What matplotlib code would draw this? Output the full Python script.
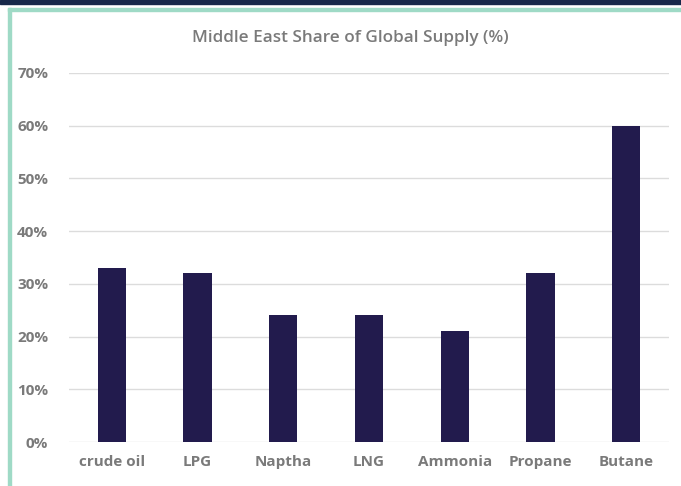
import matplotlib.pyplot as plt
from matplotlib.patches import Rectangle

categories = ['crude oil', 'LPG', 'Naptha', 'LNG', 'Ammonia', 'Propane', 'Butane']
share = [33, 32, 24, 24, 21, 32, 60]

plt.rcParams['font.family'] = ['Open Sans', 'DejaVu Sans']

fig = plt.figure(figsize=(6.81, 4.86), dpi=100)
ax = fig.add_axes([0.1013, 0.0905, 0.8811, 0.7593])

ax.bar(range(len(categories)), share, width=0.33, color='#221b4d', zorder=3)

ax.set_ylim(0, 70)
ax.set_xlim(-0.5, len(categories) - 0.5)
ax.set_yticks(range(0, 71, 10))
ax.set_yticklabels([f'{v}%' for v in range(0, 71, 10)])
ax.set_xticks(range(len(categories)))
ax.set_xticklabels(categories)
ax.grid(axis='y', color='#dcdcdc', linewidth=1, zorder=0)
for s in ax.spines.values():
    s.set_visible(False)
ax.tick_params(length=0, colors='#7a7a7a', labelsize=11)
ax.tick_params(axis='y', pad=15)
ax.tick_params(axis='x', pad=9)
for lbl in ax.get_xticklabels() + ax.get_yticklabels():
    lbl.set_fontweight('bold')

fig.text(0.515, 0.922, 'Middle East Share of Global Supply (%)', ha='center', va='center',
         fontsize=12.3, color='#7a7a7a', fontweight='semibold')

# top navy band and teal frame
fig.patches.append(Rectangle((0, 1 - 4 / 486), 1, 4 / 486, transform=fig.transFigure,
                             color='#17284a', zorder=0))
fig.patches.append(Rectangle((8 / 681, 0), 3 / 681, 1 - 8 / 486, transform=fig.transFigure,
                             color='#9fdac6', zorder=0))
fig.patches.append(Rectangle((8 / 681, 1 - 11 / 486), 1, 3 / 486, transform=fig.transFigure,
                             color='#9fdac6', zorder=0))

fig.savefig('out.png', dpi=100)
